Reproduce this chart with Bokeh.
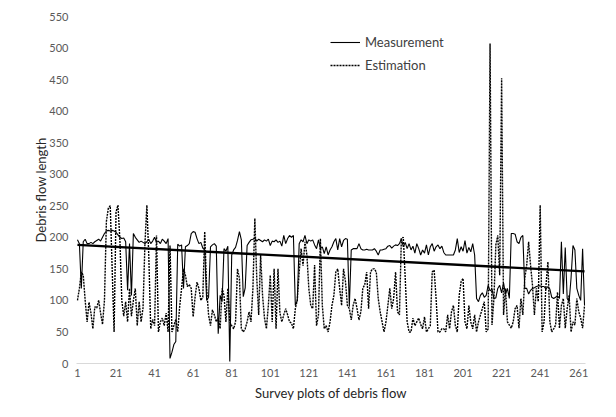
from bokeh.plotting import figure
from bokeh.models import Range1d, FixedTicker, Legend, LegendItem
from bokeh.embed import file_html
from bokeh.resources import INLINE

# ---------------- data ----------------
plots = list(range(1, 265))

measurement = [
    196, 190, 119, 193, 197, 190, 190, 192, 190, 193,
    195, 197, 194, 200, 206, 210, 211, 210, 211, 210,
    208, 204, 200, 198, 199, 193, 116, 190, 108, 206,
    200, 196, 192, 194, 192, 190, 193, 197, 190, 194,
    200, 192, 194, 190, 197, 194, 190, 198, 8, 18,
    30, 35, 189, 186, 188, 119, 185, 187, 190, 206,
    209, 208, 198, 190, 192, 183, 180, 100, 105, 185,
    188, 190, 186, 47, 108, 98, 182, 178, 186, 3,
    172, 180, 184, 195, 209, 196, 106, 120, 187, 192,
    196, 197, 199, 194, 197, 195, 193, 196, 194, 197,
    187, 194, 193, 196, 192, 194, 186, 203, 190, 198,
    203, 200, 203, 92, 100, 190, 196, 193, 203, 190,
    196, 194, 196, 188, 182, 196, 182, 185, 174, 185,
    172, 180, 185, 193, 198, 180, 198, 185, 195, 198,
    197, 90, 180, 182, 182, 182, 190, 182, 180, 180,
    181, 180, 180, 180, 182, 178, 172, 180, 180, 181,
    182, 186, 187, 183, 186, 188, 187, 190, 198, 185,
    192, 182, 190, 180, 186, 175, 190, 182, 172, 180,
    175, 188, 172, 185, 190, 178, 185, 188, 182, 186,
    176, 172, 172, 172, 172, 172, 180, 198, 176, 185,
    178, 195, 175, 184, 177, 190, 172, 103, 98, 108,
    112, 105, 108, 124, 115, 118, 103, 104, 119, 124,
    112, 128, 110, 119, 103, 206, 206, 205, 193, 190,
    200, 203, 119, 119, 110, 116, 119, 120, 122, 123,
    123, 122, 122, 118, 122, 118, 105, 103, 105, 107,
    103, 193, 110, 184, 103, 98, 135, 187, 180, 119,
    108, 100, 182, 92,
]

estimation = [
    100, 119, 145, 140, 100, 66, 97, 80, 55, 90,
    88, 100, 80, 62, 100, 225, 246, 250, 150, 50,
    240, 251, 196, 100, 75, 98, 66, 119, 75, 100,
    119, 60, 98, 66, 88, 190, 251, 170, 55, 70,
    60, 203, 50, 66, 72, 60, 80, 50, 187, 50,
    60, 70, 50, 90, 119, 150, 140, 122, 125, 119,
    74, 105, 129, 119, 100, 105, 209, 119, 77, 60,
    85, 77, 66, 72, 55, 119, 108, 66, 119, 66,
    60, 55, 66, 150, 135, 55, 50, 55, 66, 82,
    66, 119, 230, 135, 77, 172, 108, 72, 55, 92,
    140, 66, 150, 55, 150, 80, 66, 77, 87, 77,
    66, 64, 55, 87, 100, 145, 182, 155, 193, 172,
    119, 92, 87, 156, 60, 77, 198, 92, 55, 60,
    50, 66, 92, 108, 145, 150, 119, 92, 150, 130,
    92, 87, 69, 92, 103, 87, 69, 82, 119, 125,
    145, 87, 145, 150, 150, 145, 103, 82, 66, 50,
    66, 92, 119, 87, 103, 145, 82, 77, 198, 200,
    135, 66, 50, 50, 72, 60, 66, 72, 62, 55,
    74, 50, 55, 60, 145, 148, 103, 50, 50, 55,
    55, 50, 77, 55, 82, 92, 60, 50, 108, 130,
    135, 66, 55, 92, 66, 55, 77, 50, 66, 77,
    87, 98, 50, 55, 507, 61, 103, 188, 203, 140,
    452, 77, 119, 66, 61, 56, 66, 87, 92, 56,
    103, 77, 135, 156, 193, 156, 124, 77, 119, 98,
    251, 50, 66, 124, 161, 66, 50, 55, 61, 113,
    56, 92, 103, 56, 87, 108, 50, 66, 61, 103,
    82, 72, 56, 92,
]

trend_x = [1, 264]
trend_y = [188, 146]

x_ticks = list(range(1, 262, 20))
y_ticks = list(range(0, 551, 50))

FONT = "Lato"

# ---------------- figure ----------------
p = figure(width=606, height=406, output_backend="svg", toolbar_location=None,
           x_range=Range1d(0.5, 264.5), y_range=Range1d(0, 550),
           min_border_left=76, min_border_right=21, min_border_top=16,
           min_border_bottom=43)
p.grid.visible = False
p.outline_line_color = None
p.background_fill_color = "white"
p.border_fill_color = "white"

r_m = p.line(plots, measurement, line_color="black", line_width=1.1)
r_e = p.line(plots, estimation, line_color="black", line_width=1.4,
             line_dash="2 1")
p.line(trend_x, trend_y, line_color="black", line_width=2.4)

# axes
p.xaxis.ticker = FixedTicker(ticks=x_ticks)
p.yaxis.ticker = FixedTicker(ticks=y_ticks)
p.xaxis.axis_line_color = "#d9d9d9"
p.xaxis.axis_line_width = 1
p.yaxis.axis_line_color = None
for ax in (p.xaxis, p.yaxis):
    ax.major_tick_line_color = None
    ax.minor_tick_line_color = None
    ax.major_label_text_font = FONT
    ax.major_label_text_font_size = "11px"
    ax.major_label_text_color = "#595959"
    ax.axis_label_text_font = FONT
    ax.axis_label_text_font_size = "13px"
    ax.axis_label_text_font_style = "normal"
    ax.axis_label_text_color = "#262626"
    ax.major_tick_out = 0
    ax.major_tick_in = 0

p.xaxis.axis_label = "Survey plots of debris flow"
p.yaxis.axis_label = "Debris flow length"
p.xaxis.major_label_standoff = 5
p.yaxis.major_label_standoff = 8
p.xaxis.axis_label_standoff = 5
p.yaxis.axis_label_standoff = -3

legend = Legend(items=[LegendItem(label="Measurement", renderers=[r_m]),
                       LegendItem(label="Estimation", renderers=[r_e])],
                location=(254, 288))
legend.padding = 0
legend.margin = 0
legend.border_line_color = None
legend.background_fill_alpha = 0
legend.label_text_font = FONT
legend.label_text_font_size = "13px"
legend.label_text_color = "#404040"
legend.glyph_width = 30
legend.glyph_height = 20
legend.label_height = 20
legend.label_standoff = 5
legend.spacing = 3
p.add_layout(legend)

open("out.html", "w").write(file_html(p, INLINE))
